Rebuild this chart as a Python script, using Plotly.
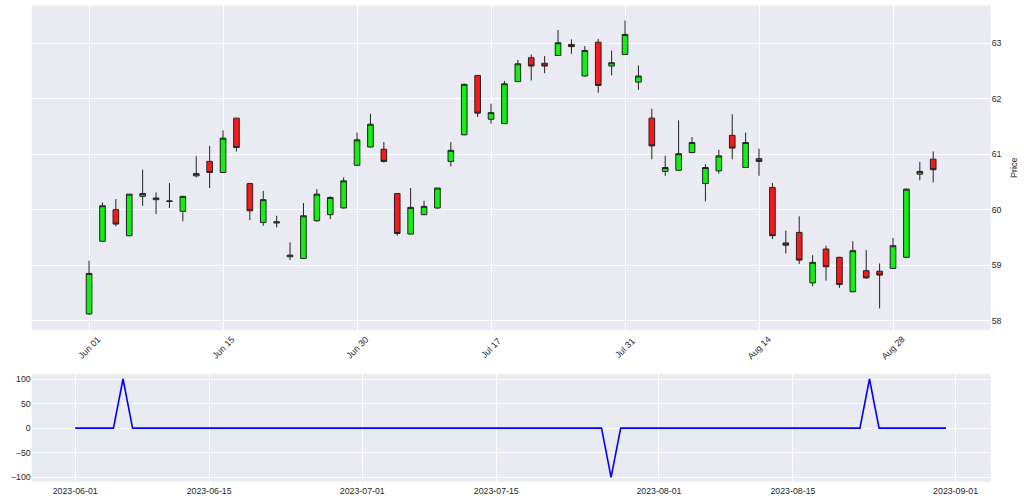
import plotly.graph_objects as go

# ---- data ----
dates = [
    "2023-06-01", "2023-06-02", "2023-06-05", "2023-06-06", "2023-06-07", "2023-06-08", "2023-06-09",
    "2023-06-12", "2023-06-13", "2023-06-14", "2023-06-15", "2023-06-16", "2023-06-20", "2023-06-21",
    "2023-06-22", "2023-06-23", "2023-06-26", "2023-06-27", "2023-06-28", "2023-06-29", "2023-06-30",
    "2023-07-03", "2023-07-05", "2023-07-06", "2023-07-07", "2023-07-10", "2023-07-11", "2023-07-12",
    "2023-07-13", "2023-07-14", "2023-07-17", "2023-07-18", "2023-07-19", "2023-07-20", "2023-07-21",
    "2023-07-24", "2023-07-25", "2023-07-26", "2023-07-27", "2023-07-28", "2023-07-31",
    "2023-08-01", "2023-08-02", "2023-08-03", "2023-08-04", "2023-08-07", "2023-08-08", "2023-08-09",
    "2023-08-10", "2023-08-11", "2023-08-14", "2023-08-15", "2023-08-16", "2023-08-17", "2023-08-18",
    "2023-08-21", "2023-08-22", "2023-08-23", "2023-08-24", "2023-08-25", "2023-08-28", "2023-08-29",
    "2023-08-30", "2023-08-31",
]
open_ = [
    58.12, 59.43, 60.00, 59.53, 60.24, 60.18, 60.15, 59.97, 60.61, 60.87, 60.67, 61.65, 60.47, 59.77,
    59.76, 59.15, 59.12, 59.80, 59.91, 60.03, 60.80, 61.13, 61.09, 60.29, 59.56, 59.91, 60.03, 60.87,
    61.35, 62.42, 61.63, 61.55, 62.31, 62.74, 62.64, 62.78, 62.98, 62.41, 63.02, 62.59, 62.80,
    62.30, 61.65, 60.69, 60.71, 61.03, 60.47, 60.70, 61.34, 60.76, 60.92, 60.40, 59.40, 59.59, 58.68,
    59.29, 59.14, 58.52, 58.90, 58.89, 58.94, 59.14, 60.64, 60.91,
]
high = [
    59.08, 60.13, 60.19, 60.28, 60.72, 60.31, 60.48, 60.25, 60.96, 61.15, 61.43, 61.65, 60.47, 60.34,
    59.89, 59.41, 60.12, 60.37, 60.24, 60.58, 61.39, 61.73, 61.22, 60.29, 60.39, 60.16, 60.39, 61.22,
    62.27, 62.43, 61.91, 62.32, 62.70, 62.80, 62.77, 63.24, 63.07, 62.95, 63.08, 62.87, 63.41,
    62.60, 61.82, 60.97, 61.61, 61.31, 60.82, 61.08, 61.72, 61.39, 61.10, 60.48, 59.62, 59.88, 59.18,
    59.35, 59.15, 59.43, 59.27, 59.03, 59.49, 60.38, 60.86, 61.05,
]
low = [
    58.10, 59.42, 59.70, 59.52, 60.07, 59.92, 60.03, 59.79, 60.58, 60.39, 60.66, 61.05, 59.81, 59.71,
    59.68, 59.09, 59.12, 59.78, 59.83, 60.02, 60.80, 61.12, 60.85, 59.53, 59.55, 59.90, 60.01, 60.78,
    61.34, 61.67, 61.55, 61.55, 62.31, 62.33, 62.46, 62.78, 62.81, 62.40, 62.11, 62.42, 62.80,
    62.16, 60.91, 60.61, 60.70, 61.02, 60.15, 60.65, 60.91, 60.76, 60.61, 59.47, 59.21, 59.02, 58.62,
    58.72, 58.59, 58.51, 58.75, 58.22, 58.93, 59.13, 60.53, 60.49,
]
close = [
    58.85, 60.07, 59.74, 60.28, 60.29, 60.21, 60.155, 60.24, 60.65, 60.67, 61.29, 61.12, 59.98, 60.18,
    59.78, 59.18, 59.89, 60.28, 60.22, 60.52, 61.26, 61.54, 60.87, 59.57, 60.04, 60.06, 60.39, 61.07,
    62.26, 61.74, 61.75, 62.27, 62.63, 62.59, 62.59, 63.01, 62.94, 62.87, 62.24, 62.65, 63.16,
    62.41, 61.15, 60.76, 61.01, 61.21, 60.76, 60.97, 61.11, 61.21, 60.87, 59.53, 59.36, 59.09, 59.05,
    58.97, 58.65, 59.26, 58.77, 58.82, 59.35, 60.37, 60.69, 60.72,
]
pattern = [0] * len(dates)
pattern[3] = 100     # 2023-06-06
pattern[38] = -100   # 2023-07-27
pattern[57] = 100    # 2023-08-23

tick_idx = [0, 10, 20, 30, 40, 50, 60]
tick_text = ["Jun 01", "Jun 15", "Jun 30", "Jul 17", "Jul 31", "Aug 14", "Aug 28"]
price_ticks = [58, 59, 60, 61, 62, 63]
pattern_ticks = [-100, -50, 0, 50, 100]
date_ticks = ["2023-06-01", "2023-06-15", "2023-07-01", "2023-07-15", "2023-08-01", "2023-08-15", "2023-09-01"]

# ---- style ----
BG = "#EAEAF2"
TXT = "#262626"
FONT = "Liberation Sans, Arial, sans-serif"
idx = list(range(len(dates)))

fig = go.Figure()
fig.add_trace(go.Candlestick(
    x=idx, open=open_, high=high, low=low, close=close,
    increasing=dict(fillcolor="#11F011", line=dict(color="#222222", width=1)),
    decreasing=dict(fillcolor="#FA1818", line=dict(color="#222222", width=1)),
    whiskerwidth=0, xaxis="x", yaxis="y", showlegend=False,
))
fig.add_trace(go.Scatter(
    x=dates, y=pattern, mode="lines", line=dict(color="#0000FF", width=1.6),
    xaxis="x2", yaxis="y2", showlegend=False,
))

grid = dict(showgrid=True, gridcolor="white", gridwidth=1.4, zeroline=False,
            showline=False, ticks="", tickfont=dict(family=FONT, size=8.8, color=TXT))

fig.update_layout(
    width=1024, height=503, margin=dict(l=0, r=0, t=0, b=0),
    paper_bgcolor="white", plot_bgcolor=BG, boxgap=0.4,
    font=dict(family=FONT, color=TXT),
    xaxis=dict(domain=[0.03096, 0.96748], anchor="y", range=[-4.28, 67.29],
               tickmode="array", tickvals=tick_idx, ticktext=tick_text, showticklabels=False,
               rangeslider=dict(visible=False), **grid),
    yaxis=dict(domain=[0.34394, 0.98946], anchor="x", side="right", range=[57.83, 63.685],
               tickmode="array", tickvals=price_ticks,
               title=dict(text="Price", font=dict(family=FONT, size=9, color=TXT), standoff=10),
               **grid),
    xaxis2=dict(domain=[0.03096, 0.96748], anchor="y2", type="date",
                range=["2023-05-27 11:00", "2023-09-04 16:00"], ticklabelstandoff=3,
                tickmode="array", tickvals=date_ticks, ticktext=date_ticks, **grid),
    yaxis2=dict(domain=[0.04235, 0.25646], anchor="x2", range=[-109, 110.2],
                tickmode="array", tickvals=pattern_ticks,
                ticktext=["\u2212100", "\u221250", "0", "50", "100"], **grid),
)

# rotated date labels for the candlestick panel, centred on their ticks
for i, t in zip(tick_idx, tick_text):
    fig.add_annotation(x=i, xref="x", y=0.3082, yref="paper", text=t, textangle=-45,
                       showarrow=False, xanchor="center", yanchor="middle",
                       font=dict(family=FONT, size=9, color=TXT))

fig.write_html("out.html")
